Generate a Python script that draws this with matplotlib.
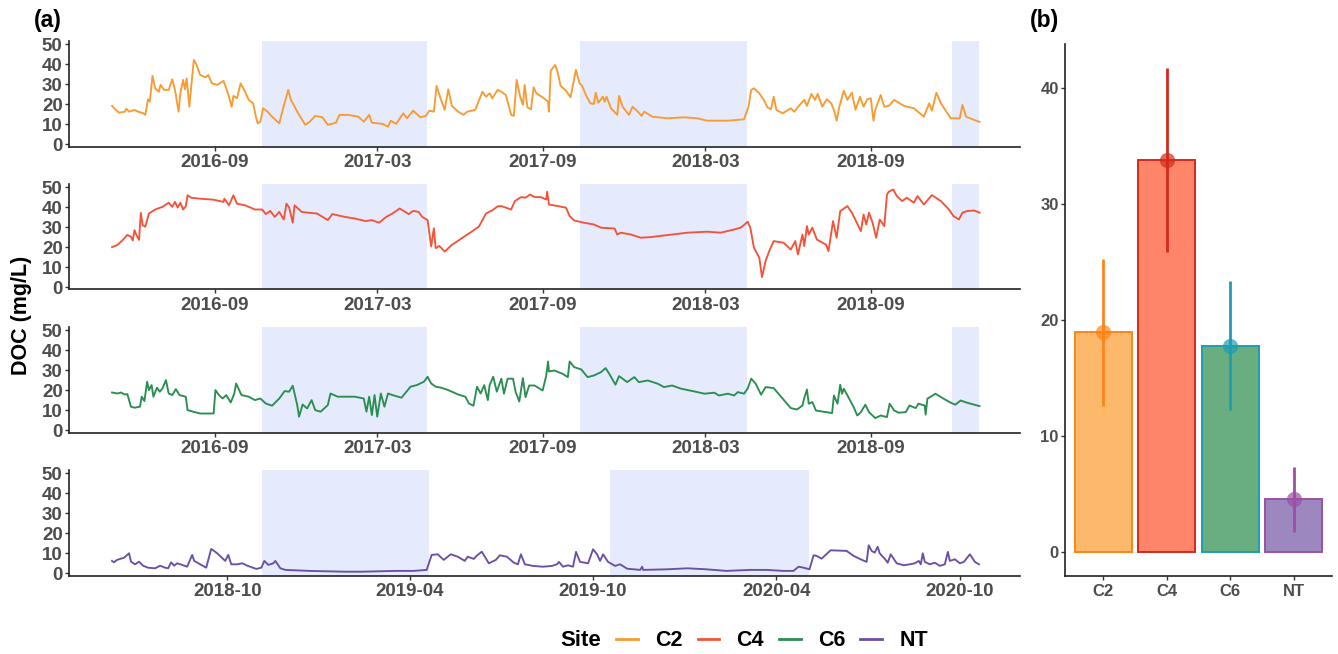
import numpy as np
import pandas as pd
import matplotlib
matplotlib.use("Agg")
import matplotlib.pyplot as plt
import matplotlib.dates as mdates
from matplotlib.lines import Line2D

# ---------------------------------------------------------------------------
# Data
# ---------------------------------------------------------------------------
# C2 / C4 / C6: days since 2016-09-01; NT: days since 2018-10-01
T0_STREAM = "2016-09-01"
T0_NT = "2018-10-01"

c2_days = [-114, -110, -106, -100, -98, -95, -89, -85, -79, -77, -74, -72, -69, -66, -62, -60,
           -56, -51, -47, -44, -40, -38, -35, -33, -31, -28, -26, -23, -20, -16, -10, -7, -3,
           3, 10, 13, 16, 19, 21, 25, 29, 34, 38, 43, 46, 48, 51, 54, 59, 64, 72, 77, 82, 85,
           93, 101, 106, 112, 120, 126, 135, 139, 149, 160, 166, 172, 175, 187, 193, 196, 202,
           210, 214, 221, 229, 235, 239, 244, 247, 252, 256, 260, 264, 271, 277, 281, 290, 298,
           302, 306, 309, 315,
           319, 324, 330, 333, 336, 340, 343, 345, 348, 352, 355, 358, 365, 371, 372, 374, 379,
           382, 385, 391, 396, 402, 406, 409, 413, 418, 422, 424, 427, 432, 434, 436, 441, 448,
           450, 454, 461, 465, 471, 475, 478, 487, 504, 522, 537, 548, 571, 589, 594, 597, 600,
           606, 611, 615, 619, 622, 625, 632, 641, 645, 650, 656, 659, 664, 668, 671, 676, 681,
           686, 689, 692, 695, 700, 704, 709, 713, 718, 722, 726, 730, 733, 735, 741, 745, 750,
           756, 767, 778, 789, 795, 798, 803, 808, 819, 829, 832, 836, 845, 851]
c2_doc = [19.2, 17.2, 15.8, 16.3, 17.8, 16.3, 17.2, 16.3, 15.5, 14.7, 22.5, 21.3, 34.2, 28, 26.3,
          29.7, 27.2, 27.2, 32.5, 27.2, 16.3, 25.5, 32.2, 27.5, 33, 18.8, 28.5, 42.2, 39.7, 34.7,
          33.5, 34.7, 30.5, 29.7, 31.7, 28, 23.8, 18.8, 24.2, 23, 30.5, 26.3, 22.2, 20.5, 13.8,
          10.5, 11.3, 18, 16.3, 13.8, 10.5, 19.2, 27.2, 22.2, 15.5, 9.7, 11.3, 14.2, 13.5, 9.7,
          10.8, 14.7, 14.7, 13.8, 11.3, 14.7, 10.8, 10.2, 8.8, 11.8, 10.2, 15.5, 13, 16.8, 13.5,
          14.2, 16.8, 16.3, 29.2, 22.2, 17.2, 27.5, 19.2, 16.3, 14.7, 16.3, 17.2, 26.3, 23.8,
          25.5, 23, 27.2,
          26.3, 24.7, 14.7, 14.2, 32.2, 23.8, 19.7, 29.7, 18.5, 17.5, 28.5, 25.5, 23.5, 21.3,
          16.3, 36.8, 39.7, 35.5, 29.2, 26.8, 23.5, 37.2, 30.5, 29.2, 24.7, 20.5, 20.2, 25.8,
          20.8, 23.8, 21.3, 23.8, 18, 14.7, 24.2, 18.8, 14.7, 18.8, 16.3, 14.2, 16.3, 13.8, 13,
          13.5, 13, 11.8, 11.8, 12.5, 18.8, 27.2, 28, 25.5, 22.2, 18.5, 17.5, 23.8, 17.2, 15.5,
          18, 16.3, 19.2, 22.2, 19.2, 25.2, 22.2, 25.2, 18.8, 22.5, 20.5, 17.2, 11.8, 18.8,
          26.8, 22.2, 25.8, 17.2, 23.8, 18.8, 22.5, 23, 11.8, 17.2, 24.7, 18.8, 19.2, 22.2,
          19.2, 18, 13.8, 20.5, 16.8, 25.8, 20.5, 13, 13, 19.7, 13.8, 12.2, 11.2]

c4_days = [-114, -108, -102, -97, -93, -91, -89, -87, -84, -82, -80, -77, -73, -66, -58, -51,
           -47, -44, -41, -38, -35, -32, -30, -26, -16, -1, 10, 11, 16, 21, 25, 34, 45, 53, 57,
           62, 67, 72, 77, 80, 83, 87, 89, 97, 106, 114, 126, 131, 145, 156, 168, 175, 183, 191,
           198, 206, 212, 216, 221, 227, 231, 237, 241, 244, 246, 250, 256, 264, 275, 286, 294,
           302, 309, 315,
           319, 330, 334, 341, 346, 351, 356, 363, 369, 370, 372, 382, 391, 395, 400, 411, 422,
           430, 445, 448, 452, 463, 474, 485, 504, 526, 548, 563, 578, 585, 589, 593, 596, 600,
           606, 609, 613, 617, 622, 633, 641, 646, 649, 654, 656, 659, 661, 665, 670, 680, 683,
           688, 692, 696, 704, 709, 719, 722, 725, 728, 732, 736, 740, 745, 748, 750, 755, 759,
           765, 770, 778, 782, 789, 798, 808, 817, 822, 828, 832, 837, 845, 851]
c4_doc = [20.0, 21.1, 23.6, 26.1, 25.2, 23.3, 28.5, 26.1, 23.6, 37.1, 31.0, 30.2, 36.8, 38.8,
          40.1, 42.2, 40.1, 42.6, 39.8, 42.2, 38.8, 40.4, 45.9, 44.7, 44.2, 43.7, 42.6, 44.2,
          40.9, 45.9, 41.7, 40.9, 38.8, 38.8, 36.5, 38.1, 35.1, 37.6, 33.8, 41.7, 39.8, 32.2,
          40.9, 37.6, 37.1, 36.8, 33.5, 36.5, 35.1, 34.3, 33.0, 33.5, 32.2, 35.1, 36.8, 39.3,
          37.6, 36.5, 38.1, 37.6, 35.1, 33.5, 20.3, 29.4, 19.5, 20.6, 17.8, 21.1, 24.4, 27.7,
          30.2, 36.8, 38.4, 40.4,
          40.5, 38.8, 43, 45, 44.7, 46.3, 45, 45, 43.8, 47.7, 41.3, 40.5, 39.7, 35.5, 33.3,
          32.2, 31.3, 29.7, 29.3, 26.3, 27.2, 26.3, 24.7, 25, 26, 27.2, 27.7, 27.2, 28.8, 29.7,
          31, 32.7, 29.7, 19.7, 14.7, 5, 13, 18, 23, 22.2, 18.8, 23, 16.3, 26.3, 20.5, 30.5,
          26.3, 29.7, 23.8, 21.3, 18, 33, 24.7, 38, 40.5, 37.2, 28, 36.3, 31.3, 37.2, 32.2,
          24.7, 33.8, 30.5, 46.3, 47.7, 48.8, 45.5, 43, 44.7, 42.2, 45.5, 41.3, 46, 43, 38.8,
          35.5, 33.8, 37.2, 38, 38.3, 37.2]

c6_days = [-114, -108, -104, -100, -97, -93, -89, -83, -81, -78, -75, -73, -70, -68, -64, -61,
           -58, -54, -51, -47, -43, -39, -32, -30, -24, -16, -1, 1, 5, 9, 13, 18, 22, 24, 30,
           38, 45, 51, 57, 64, 72, 78, 83, 87, 89, 92, 94, 98, 103, 108, 112, 118, 126, 129,
           137, 145, 156, 166, 169, 172, 175, 178, 181, 185, 189, 193, 198, 208, 218, 225, 233,
           237, 241, 246, 252, 260, 271, 279, 283, 288, 292, 296, 300, 304, 306, 310, 314,
           319, 322, 326, 332, 335, 339, 343, 346, 350, 356, 365, 369, 371, 372, 378, 384, 387,
           393, 395, 400, 408, 415, 422, 430, 435, 439, 446, 450, 459, 467, 472, 482, 493, 500,
           509, 519, 534, 545, 556, 561, 571, 578, 582, 589, 593, 597, 602, 608, 613, 622, 632,
           641, 648, 654, 656, 659, 661, 665, 669, 680, 687, 689, 693, 696, 698, 700, 706, 711,
           715, 719, 724, 728, 735, 741, 748, 751, 756, 761, 769, 773, 780, 783, 790, 791, 793,
           802, 811, 819, 824, 830, 837, 851]
c6_doc = [18.8, 18.3, 18.8, 17.8, 18, 11.7, 11.2, 11.7, 16.7, 14.5, 24.2, 20, 22.5, 16.7, 21.2,
          19.2, 20.8, 25, 18.3, 17.5, 20.5, 17.5, 16.7, 10, 9.2, 8.3, 8.3, 20, 17.5, 15.8, 17.5,
          13.8, 18.3, 23.3, 17.5, 16.7, 15, 15.8, 13.3, 12.2, 15.8, 19.5, 19.2, 22.2, 18.3,
          12.5, 6.7, 12.8, 10.8, 15, 10, 9.2, 12.5, 18.3, 16.7, 16.7, 16.7, 15.8, 9.2, 16.7,
          7.5, 17.5, 6.7, 18.3, 11.7, 18.3, 17.5, 16.2, 21.7, 22.5, 24.2, 26.7, 23.3, 21.7,
          21.2, 20, 17.8, 16.7, 13.3, 12.2, 21.7, 18.3, 22.5, 15, 22.5, 26.7, 19.2,
          25.7, 18.2, 25.7, 25.7, 19, 14.3, 26, 16.5, 22.3, 22.3, 19.8, 27.3, 34.3, 29.3, 29.8,
          28.7, 28.2, 26.5, 34.3, 31.5, 30.3, 26.5, 27.3, 29, 31, 28.2, 22.7, 27, 24, 26.5, 24,
          24.8, 23.2, 21.5, 22.3, 20.7, 19.3, 18.2, 18.7, 17.3, 18.2, 17.3, 19, 18.2, 20.7,
          25.7, 23.2, 17.7, 21.5, 21, 15.7, 11, 10.3, 12.3, 16, 20.3, 13.2, 14, 9.8, 9, 8.5,
          17.3, 13.2, 22.7, 18.2, 20.7, 15.7, 11.5, 7.3, 9, 12.7, 9, 6, 7.3, 6.5, 13.2, 9.8,
          8.7, 9, 12.3, 11, 13.2, 12.3, 7.7, 15.7, 18.2, 15.7, 13.7, 12.7, 14.8, 13.7, 12]

nt_days = [-115, -113, -110, -103, -98, -96, -92, -88, -84, -79, -72, -67, -62, -59, -56, -53,
           -50, -45, -40, -35, -33, -27, -21, -16, -10, -2, 1, 4, 10, 15, 20, 29, 34, 37, 41, 46,
           48, 53, 58, 82, 117, 134, 151, 168, 186, 199, 204, 210, 216, 223, 230, 237, 240, 246,
           249, 254, 261, 268,
           272, 279, 286, 290, 293, 297, 305, 315, 324, 329, 331, 335, 340, 345, 348, 352, 360,
           365, 369, 372, 375, 380, 387, 392, 399, 412, 414, 415, 439, 459, 478, 498, 522, 538,
           555, 565, 570, 575, 581, 585, 588, 593, 602, 618, 625, 632, 638, 640, 643, 646, 649,
           651, 656, 659, 662, 668, 675, 681, 686, 690, 692, 694, 696, 701, 706, 711, 716, 719,
           721, 726, 731, 735, 741, 746, 750]
nt_doc = [6.2, 5.5, 6.7, 7.8, 10, 5.8, 4.5, 5.8, 3.8, 2.8, 2.5, 3.8, 2.8, 2.5, 5.5, 3.8, 5, 4.2,
          3.3, 9.2, 6.2, 4.5, 2.8, 12.2, 10, 6.2, 9.2, 4.5, 4.5, 5, 3.8, 2.2, 2.8, 6.2, 4.2, 5,
          6.2, 2.5, 1.7, 1.2, 0.8, 0.8, 1, 1.2, 1.2, 1.7, 9.2, 9.5, 6.7, 9.5, 8.3, 6.2, 8.3,
          7.2, 8.8, 10.8, 5, 6.7,
          9, 8.3, 5.3, 4.5, 9.5, 4.5, 3.7, 3.3, 3.7, 4.5, 5.7, 3.3, 4, 3.3, 10.7, 5.7, 5, 12,
          9.5, 6.2, 9.5, 5.7, 3.7, 4.5, 2.3, 1.7, 3.3, 1.7, 2, 2.5, 2, 1.2, 1.7, 1.7, 1.2, 1.2,
          3.3, 2.8, 2, 9, 8.7, 7.3, 11.5, 11.2, 8.7, 7, 5.7, 14, 11.2, 10.3, 13.3, 10, 7.3,
          5.3, 9.5, 5, 4, 4.5, 5, 6.2, 4.5, 10, 5.7, 4.5, 5.3, 3.7, 4.5, 10.7, 6.2, 7, 5, 5.7,
          9.5, 5.7, 4.5]

# ice-covered / winter periods (shaded)
stream_winter_start = ["2016-10-24", "2017-10-12", "2018-11-30"]
stream_winter_end = ["2017-04-25", "2018-04-16", "2018-12-30"]
nt_winter_start = ["2018-11-05", "2019-10-18"]
nt_winter_end = ["2019-04-20", "2020-05-03"]

# panel (b): mean +/- sd
sites = ["C2", "C4", "C6", "NT"]
doc_mean = [18.95, 33.8, 17.8, 4.55]
doc_sd = [6.35, 7.9, 5.55, 2.8]

# ---------------------------------------------------------------------------
# Style
# ---------------------------------------------------------------------------
LINE_COL = {"C2": "#F89B32", "C4": "#F4533A", "C6": "#2A8E50", "NT": "#6A50A5"}
BAR_FILL = ["#FDB96B", "#FE846A", "#69AE80", "#9D87BF"]
BAR_EDGE = ["#FF8418", "#D42A1C", "#1E9EB2", "#9B50A6"]
SHADE = "#E5EAFC"
AX_COL = "#222222"
TXT_COL = "#4D4D4D"

plt.rcParams["font.family"] = ["Liberation Sans", "DejaVu Sans"]
plt.rcParams["font.weight"] = "bold"

W, H = 1338, 654
fig = plt.figure(figsize=(W / 100, H / 100), dpi=100)


def px_axes(left, top, right, bottom):
    return fig.add_axes([left / W, 1 - bottom / H, (right - left) / W, (bottom - top) / H])


def style_axes(ax, xsize=13.5, ysize=13.5):
    for s in ("top", "right"):
        ax.spines[s].set_visible(False)
    for s in ("left", "bottom"):
        ax.spines[s].set_linewidth(1.2)
        ax.spines[s].set_color(AX_COL)
    ax.tick_params(axis="both", length=3, width=1, color="#333333", labelcolor=TXT_COL)
    ax.tick_params(axis="x", labelsize=xsize, pad=2.5)
    ax.tick_params(axis="y", labelsize=ysize, pad=1.5)


def to_dates(t0, days):
    return (pd.Timestamp(t0) + pd.to_timedelta(days, unit="D")).to_numpy()


# ---------------------------------------------------------------------------
# Panel (a): time series
# ---------------------------------------------------------------------------
A_LEFT, A_RIGHT = 68.9, 1020
PANEL_H = 105.6
bottoms = [146.7, 289.5, 432.5, 575.7]

series = [
    ("C2", T0_STREAM, c2_days, c2_doc),
    ("C4", T0_STREAM, c4_days, c4_doc),
    ("C6", T0_STREAM, c6_days, c6_doc),
    ("NT", T0_NT, nt_days, nt_doc),
]

for (site, t0, days, doc), bot in zip(series, bottoms):
    ax = px_axes(A_LEFT, bot - PANEL_H, A_RIGHT, bot)
    style_axes(ax)
    if site == "NT":
        starts, ends = nt_winter_start, nt_winter_end
        xlim = to_dates(t0, [-158, 791])
        months = (4, 10)
    else:
        starts, ends = stream_winter_start, stream_winter_end
        xlim = to_dates(t0, [-162, 896])
        months = (3, 9)
    for s, e in zip(starts, ends):
        ax.axvspan(pd.Timestamp(s), pd.Timestamp(e), color=SHADE, lw=0, zorder=0)
    ax.plot(to_dates(t0, days), doc, color=LINE_COL[site], lw=1.35, zorder=2)
    ax.set_xlim(xlim)
    ax.set_ylim(-1.2, 51.6)
    ax.set_yticks([0, 10, 20, 30, 40, 50])
    ax.xaxis.set_major_locator(mdates.MonthLocator(bymonth=months))
    ax.xaxis.set_major_formatter(mdates.DateFormatter("%Y-%m"))

fig.text(22 / W, 1 - 315 / H, "DOC (mg/L)", rotation=90, ha="center", va="center",
         fontsize=15.5, fontweight="bold", color="black")
fig.text(34 / W, 1 - 20 / H, "(a)", ha="left", va="center", fontsize=16.5,
         fontweight="bold", color="black")

# ---------------------------------------------------------------------------
# Panel (b): mean +/- sd bars
# ---------------------------------------------------------------------------
axb = px_axes(1065, 44, 1332, 576)
style_axes(axb, xsize=12, ysize=12)
xpos = np.arange(1, len(sites) + 1)
mean = np.array(doc_mean)
sd = np.array(doc_sd)
axb.bar(xpos, mean, width=0.9, color=BAR_FILL, edgecolor=BAR_EDGE, linewidth=1.4, zorder=1)
for x, m, s, c in zip(xpos, mean, sd, BAR_EDGE):
    axb.plot([x, x], [m - s, m + s], color=c, lw=2, solid_capstyle="butt", zorder=2)
    axb.plot(x, m, "o", ms=11, color=c, alpha=0.7, mew=0, zorder=3)
    axb.plot(x, m, "+", ms=10, color=c, mew=1.0, zorder=4)
axb.set_xlim(0.4, 4.6)
axb.set_ylim(-2.07, 43.8)
axb.set_xticks(xpos)
axb.set_xticklabels(sites)
axb.set_yticks([0, 10, 20, 30, 40])
fig.text(1030 / W, 1 - 21 / H, "(b)", ha="left", va="center", fontsize=16.5,
         fontweight="bold", color="black")

# ---------------------------------------------------------------------------
# Legend
# ---------------------------------------------------------------------------
fig.text(560 / W, 1 - 641 / H, "Site", ha="left", va="center", fontsize=16,
         fontweight="bold", color="black")
handles = [Line2D([], [], color=LINE_COL[s], lw=2) for s in sites]
fig.legend(handles, sites, loc="center left", bbox_to_anchor=(616 / W, 1 - 641 / H),
           ncol=4, frameon=False, fontsize=15.5, handlelength=1.02, handletextpad=0.79,
           columnspacing=0.7, borderpad=0, borderaxespad=0)

fig.savefig("out.png", dpi=100, facecolor="white")
